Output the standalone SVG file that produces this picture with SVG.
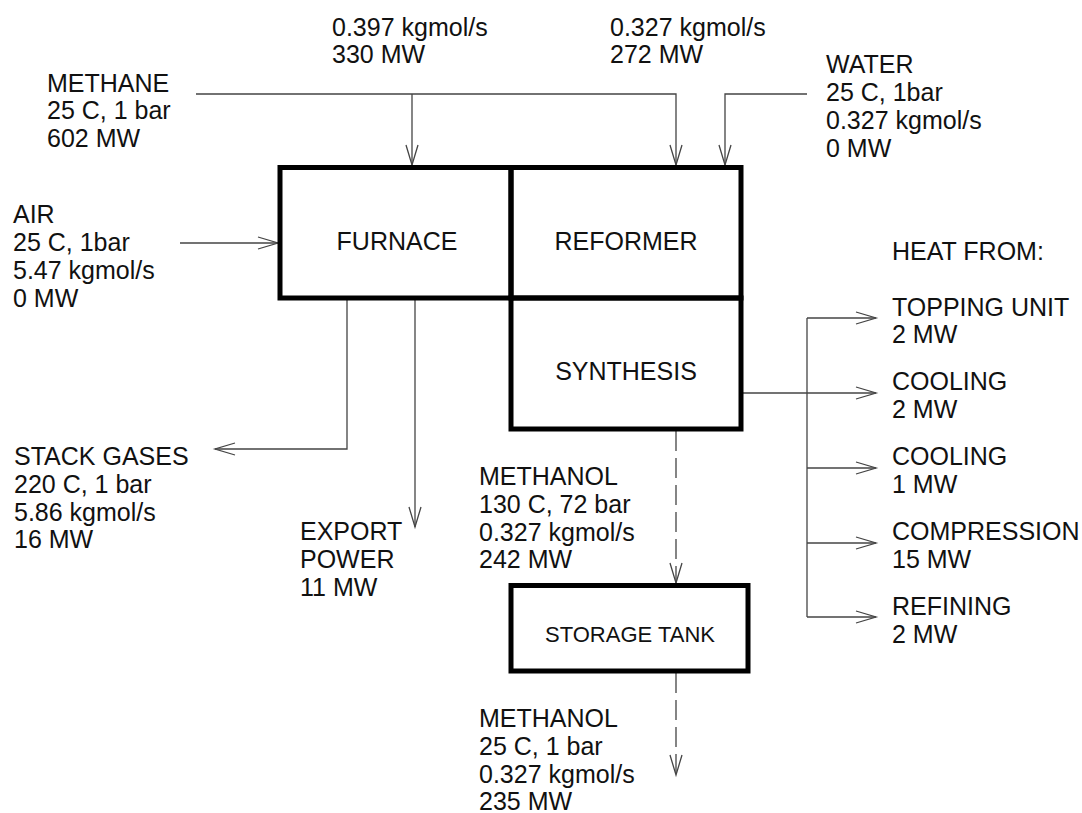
<svg xmlns="http://www.w3.org/2000/svg" width="1082" height="813" viewBox="0 0 1082 813">
<defs>
<style>
text{font-family:"Liberation Sans",Arial,sans-serif;font-size:25px;fill:#111}
.box{fill:none;stroke:#000;stroke-width:5}
.ln{fill:none;stroke:#444;stroke-width:1.3}
.dash{stroke-dasharray:20 7}
.tank{font-size:22px}
</style>
<marker id="ah" markerUnits="userSpaceOnUse" markerWidth="22" markerHeight="14" refX="20" refY="7" orient="auto" overflow="visible">
<path d="M0,1 L20,7 L0,13" fill="none" stroke="#444" stroke-width="1.3"/>
</marker>
</defs>
<rect width="1082" height="813" fill="#fff"/>
<g id="connectors">
<path class="ln" d="M196,94 H676 V165" marker-end="url(#ah)"/>
<path class="ln" d="M412,94 V165" marker-end="url(#ah)"/>
<path class="ln" d="M807,94 H725 V165" marker-end="url(#ah)"/>
<path class="ln" d="M180,243 H278" marker-end="url(#ah)"/>
<path class="ln" d="M347,300 V449 H215" marker-end="url(#ah)"/>
<path class="ln" d="M415,300 V527" marker-end="url(#ah)"/>
<path class="ln" d="M743,393 H876" marker-end="url(#ah)"/>
<path class="ln" d="M807,318 V617"/>
<path class="ln" d="M807,318 H876" marker-end="url(#ah)"/>
<path class="ln" d="M807,468 H876" marker-end="url(#ah)"/>
<path class="ln" d="M807,543 H876" marker-end="url(#ah)"/>
<path class="ln" d="M807,617 H876" marker-end="url(#ah)"/>
<path class="ln dash" d="M676,431 V583" marker-end="url(#ah)"/>
<path class="ln dash" d="M676,673 V775" marker-end="url(#ah)"/>
</g>
<g id="furnace">
<rect class="box" x="280" y="167.5" width="231" height="130.5"/>
<text x="397" y="250" text-anchor="middle">FURNACE</text>
</g>
<g id="reformer">
<rect class="box" x="511" y="167.5" width="230" height="130.5"/>
<text x="626" y="250" text-anchor="middle">REFORMER</text>
</g>
<g id="synthesis">
<rect class="box" x="511" y="298" width="230" height="131"/>
<text x="626" y="380" text-anchor="middle">SYNTHESIS</text>
</g>
<g id="storage-tank">
<rect class="box" x="511" y="585.5" width="237" height="85.5"/>
<text class="tank" x="630" y="642" text-anchor="middle">STORAGE TANK</text>
</g>
<g id="labels">
<text x="332" y="36">0.397 kgmol/s</text>
<text x="332" y="63">330 MW</text>
<text x="610" y="36">0.327 kgmol/s</text>
<text x="610" y="63">272 MW</text>
<text x="47" y="92">METHANE</text>
<text x="47" y="119">25 C, 1 bar</text>
<text x="47" y="147">602 MW</text>
<text x="826" y="73">WATER</text>
<text x="826" y="101">25 C, 1bar</text>
<text x="826" y="129">0.327 kgmol/s</text>
<text x="826" y="157">0 MW</text>
<text x="13" y="223">AIR</text>
<text x="13" y="251">25 C, 1bar</text>
<text x="13" y="279">5.47 kgmol/s</text>
<text x="13" y="307">0 MW</text>
<text x="14" y="465">STACK GASES</text>
<text x="14" y="493">220 C, 1 bar</text>
<text x="14" y="521">5.86 kgmol/s</text>
<text x="14" y="548">16 MW</text>
<text x="300" y="540">EXPORT</text>
<text x="300" y="568">POWER</text>
<text x="300" y="596">11 MW</text>
<text x="479" y="485">METHANOL</text>
<text x="479" y="513">130 C, 72 bar</text>
<text x="479" y="541">0.327 kgmol/s</text>
<text x="479" y="568">242 MW</text>
<text x="479" y="727">METHANOL</text>
<text x="479" y="755">25 C, 1 bar</text>
<text x="479" y="783">0.327 kgmol/s</text>
<text x="479" y="810">235 MW</text>
<text x="892" y="260">HEAT FROM:</text>
<text x="892" y="316">TOPPING UNIT</text>
<text x="892" y="343">2 MW</text>
<text x="892" y="390">COOLING</text>
<text x="892" y="418">2 MW</text>
<text x="892" y="465">COOLING</text>
<text x="892" y="493">1 MW</text>
<text x="892" y="540">COMPRESSION</text>
<text x="892" y="568">15 MW</text>
<text x="892" y="615">REFINING</text>
<text x="892" y="643">2 MW</text>
</g>
</svg>
